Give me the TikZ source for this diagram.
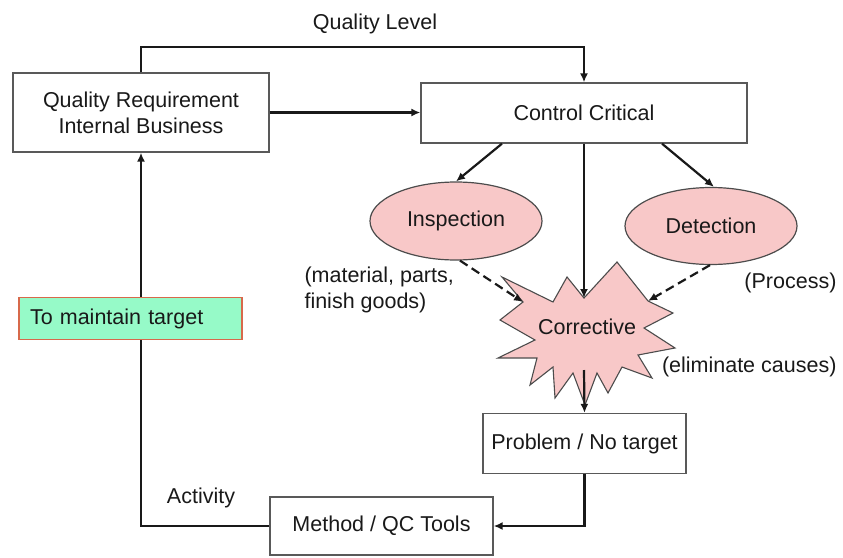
\documentclass[tikz,border=0pt]{standalone}
\usepackage{fontspec}
\setmainfont{Liberation Sans}
\usetikzlibrary{arrows.meta,shapes.geometric}
\definecolor{pinkfill}{RGB}{248,200,200}
\definecolor{mintfill}{RGB}{150,250,200}
\definecolor{mintedge}{RGB}{215,105,75}
\definecolor{inkcol}{RGB}{25,25,25}
\begin{document}
\begin{tikzpicture}[x=1pt,y=-1pt,
  every node/.style={font=\fontsize{21.5}{26}\selectfont, text=inkcol},
  box/.style={draw=black!65, line width=1.3pt, fill=white, inner sep=0pt},
  oval/.style={ellipse, draw=black!70, line width=1.2pt, fill=pinkfill, inner sep=0pt},
  link/.style={line width=2.2pt, draw=black!90},
  arr/.style={link, -{Latex[length=9pt,width=8pt]}},
  dasharr/.style={arr, dash pattern=on 9pt off 5pt},
  starline/.style={draw=black!70, line width=1.1pt, fill=pinkfill, line join=miter},
]
\useasboundingbox (0,0) rectangle (843,557);

% boxes and ovals
\node[box, minimum width=256pt, minimum height=79pt, align=center] (qr) at (141,112.5) {Quality Requirement\\Internal Business};
\node[box, minimum width=326pt, minimum height=60pt] (cc) at (584,113) {Control Critical};
\node[oval, minimum width=172pt, minimum height=78pt] (insp) at (456,221) {Inspection};
\node[oval, minimum width=172pt, minimum height=77pt] (det) at (711,226) {Detection};
\node[box, minimum width=203pt, minimum height=60pt] (prob) at (584.5,443.5) {Problem / No target};
\node[box, minimum width=223pt, minimum height=58pt] (meth) at (381.5,526) {Method / QC Tools};

% the corrective starburst
\draw[starline] (617,262) -- (648,301) -- (673,313) -- (644,328) -- (675,348) -- (638,355)
  -- (652,378) -- (622,367) -- (608,393) -- (597,373) -- (585,405) -- (573,373)
  -- (555,398) -- (553,367) -- (530,385) -- (537,358) -- (498,358) -- (535,340)
  -- (500,320) -- (523,302) -- (502,277) -- (553,302) -- (567,277) -- (584,298) -- cycle;
\coordinate (startop) at (584,298);
\coordinate (starbot) at (584,370);
\coordinate (notchL) at (523,302);
\coordinate (notchR) at (648,301);
\node (corr) at (587,327) {Corrective};

% free labels
\node (ql) at (375,24) {Quality Level};
\node[anchor=west, align=left] (mat) at (301,290) {(material, parts,\\finish goods)};
\node[anchor=east] (proc) at (840,283) {(Process)};
\node[anchor=east] (elim) at (840,367) {(eliminate causes)};
\node (act) at (201,498) {Activity};

% connectors
\draw[arr] (qr.north) -- ++(0,-25) -| (cc.north);
\draw[arr] (qr.east) -- (qr.east -| cc.west);
\draw[arr] ([xshift=-82pt]cc.south) -- (insp.north);
\draw[arr] ([xshift=78pt]cc.south) -- ([xshift=3pt]det.north);
\draw[arr] (cc.south) -- (startop);
\draw[dasharr] ([xshift=4pt]insp.south) -- (notchL);
\draw[dasharr] ([xshift=-1pt]det.south) -- (notchR);
\draw[arr] (starbot) -- (prob.north);
\draw[arr] (prob.south) |- (meth.east);
\draw[arr] (meth.west) -| (qr.south);

% note box sitting on the feedback line
\node[box, draw=mintedge, fill=mintfill, line width=1.5pt, text width=201pt, inner xsep=11pt,
  minimum height=42pt, align=left] (keep) at (130.5,318.5) {To maintain target};
\end{tikzpicture}
\end{document}
